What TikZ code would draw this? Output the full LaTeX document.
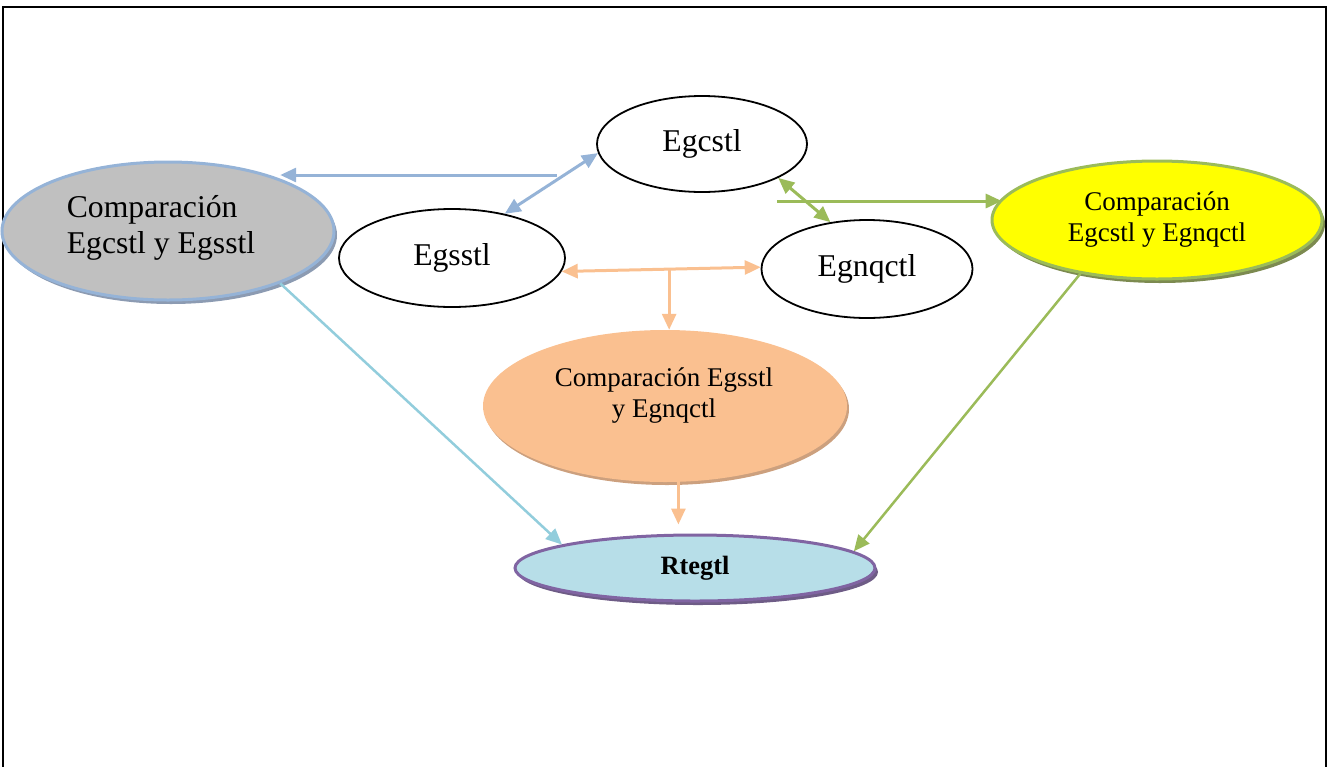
\documentclass[tikz,border=0pt]{standalone}
\usepackage{fontspec}
\setmainfont{Liberation Serif}
\usetikzlibrary{shapes.geometric,arrows.meta,shadows,calc}
\definecolor{cblue}{RGB}{149,179,215}
\definecolor{cgreen}{RGB}{155,187,89}
\definecolor{cpeach}{RGB}{250,192,144}
\definecolor{ccyan}{RGB}{146,205,220}
\definecolor{cgrey}{RGB}{192,192,192}
\definecolor{cgreysh}{RGB}{140,155,178}
\definecolor{cyellow}{RGB}{255,255,0}
\definecolor{cyellowsh}{RGB}{124,138,80}
\definecolor{cpeachsh}{RGB}{204,160,126}
\definecolor{crte}{RGB}{183,222,232}
\definecolor{cpurple}{RGB}{128,100,162}
\definecolor{cpurplesh}{RGB}{110,92,134}
\begin{document}
\begin{tikzpicture}[x=1pt,y=-1pt,
  bigfont/.style={font=\fontsize{31.7}{36}\selectfont},
  midfont/.style={font=\fontsize{27}{31}\selectfont},
  plainell/.style={ellipse, draw=black, line width=1.8pt, fill=white, inner sep=0pt, bigfont},
  greyell/.style={ellipse, draw=cblue, line width=3pt, fill=cgrey, inner sep=0pt,
    general shadow={fill=cgreysh, shadow xshift=3pt, shadow yshift=-4pt}},
  yellell/.style={ellipse, draw=cgreen, line width=3pt, fill=cyellow, inner sep=0pt, align=center, midfont,
    general shadow={fill=cyellowsh, shadow xshift=3pt, shadow yshift=-4pt}},
  peachell/.style={ellipse, fill=cpeach, inner sep=0pt,
    general shadow={fill=cpeachsh, shadow xshift=2pt, shadow yshift=-3pt}},
  rteell/.style={ellipse, draw=cpurple, line width=3pt, fill=crte, inner sep=0pt,
    font=\fontsize{26.4}{30}\selectfont\bfseries,
    general shadow={fill=cpurplesh, shadow xshift=3pt, shadow yshift=-4pt}},
  tip/.tip={Triangle[length=16pt,width=14pt]},
  arr/.style={line width=3pt, -tip},
  darr/.style={line width=3pt, tip-tip}
]
\useasboundingbox (0,0) rectangle (1329,766);
% frame
\draw[line width=2pt] (3,767) -- (3,6.5) -- (1326,6.5) -- (1326,767);

% nodes
\node[greyell, minimum width=332, minimum height=138] (grey) at (168,231) {};
\node[bigfont, align=left] (greytxt) at (161,228) {Comparación\\Egcstl y Egsstl};
\node[plainell, minimum width=210, minimum height=96] (egc) at (702,144) {Egcstl};
\node[plainell, minimum width=226, minimum height=98] (egs) at (452,258) {Egsstl};
\node[plainell, minimum width=211, minimum height=98] (egn) at (867,269) {Egnqctl};
\node[yellell, minimum width=330, minimum height=118] (yel) at (1157,220) {Comparación\\Egcstl y Egnqctl};
\node[peachell, minimum width=364, minimum height=152] (peach) at (665,406) {};
\node[midfont, align=center] (peachtxt) at (664,396) {Comparación Egsstl\\y Egnqctl};
\node[rteell, minimum width=360, minimum height=66] (rte) at (695,568) {Rtegtl};

% blue connectors
\coordinate (b1) at (557,175);
\draw[arr, cblue] (b1) -- (grey.25 |- b1);
\draw[darr, cblue] (egc.185) -- (egs.40);

% green connectors
\coordinate (g1) at (777,201);
\draw[arr, cgreen] (g1) -- (g1 -| yel.172);
\draw[darr, cgreen] (egc.-24) -- (egn.128);
\draw[arr, cgreen, line width=2.5pt] (yel.215) -- (rte.6);

% peach connectors
\draw[darr, cpeach] (egs.-7) -- (egn.179) coordinate[pos=0.54] (pm);
\draw[arr, cpeach] (pm) -- (pm |- peach.north);
\draw[arr, cpeach] (peach.-80) -- ($(peach.-80 |- rte.north)+(0,-9)$);

% cyan connector
\draw[arr, ccyan, line width=2.5pt] (grey.-25) -- (rte.170);
\end{tikzpicture}
\end{document}
